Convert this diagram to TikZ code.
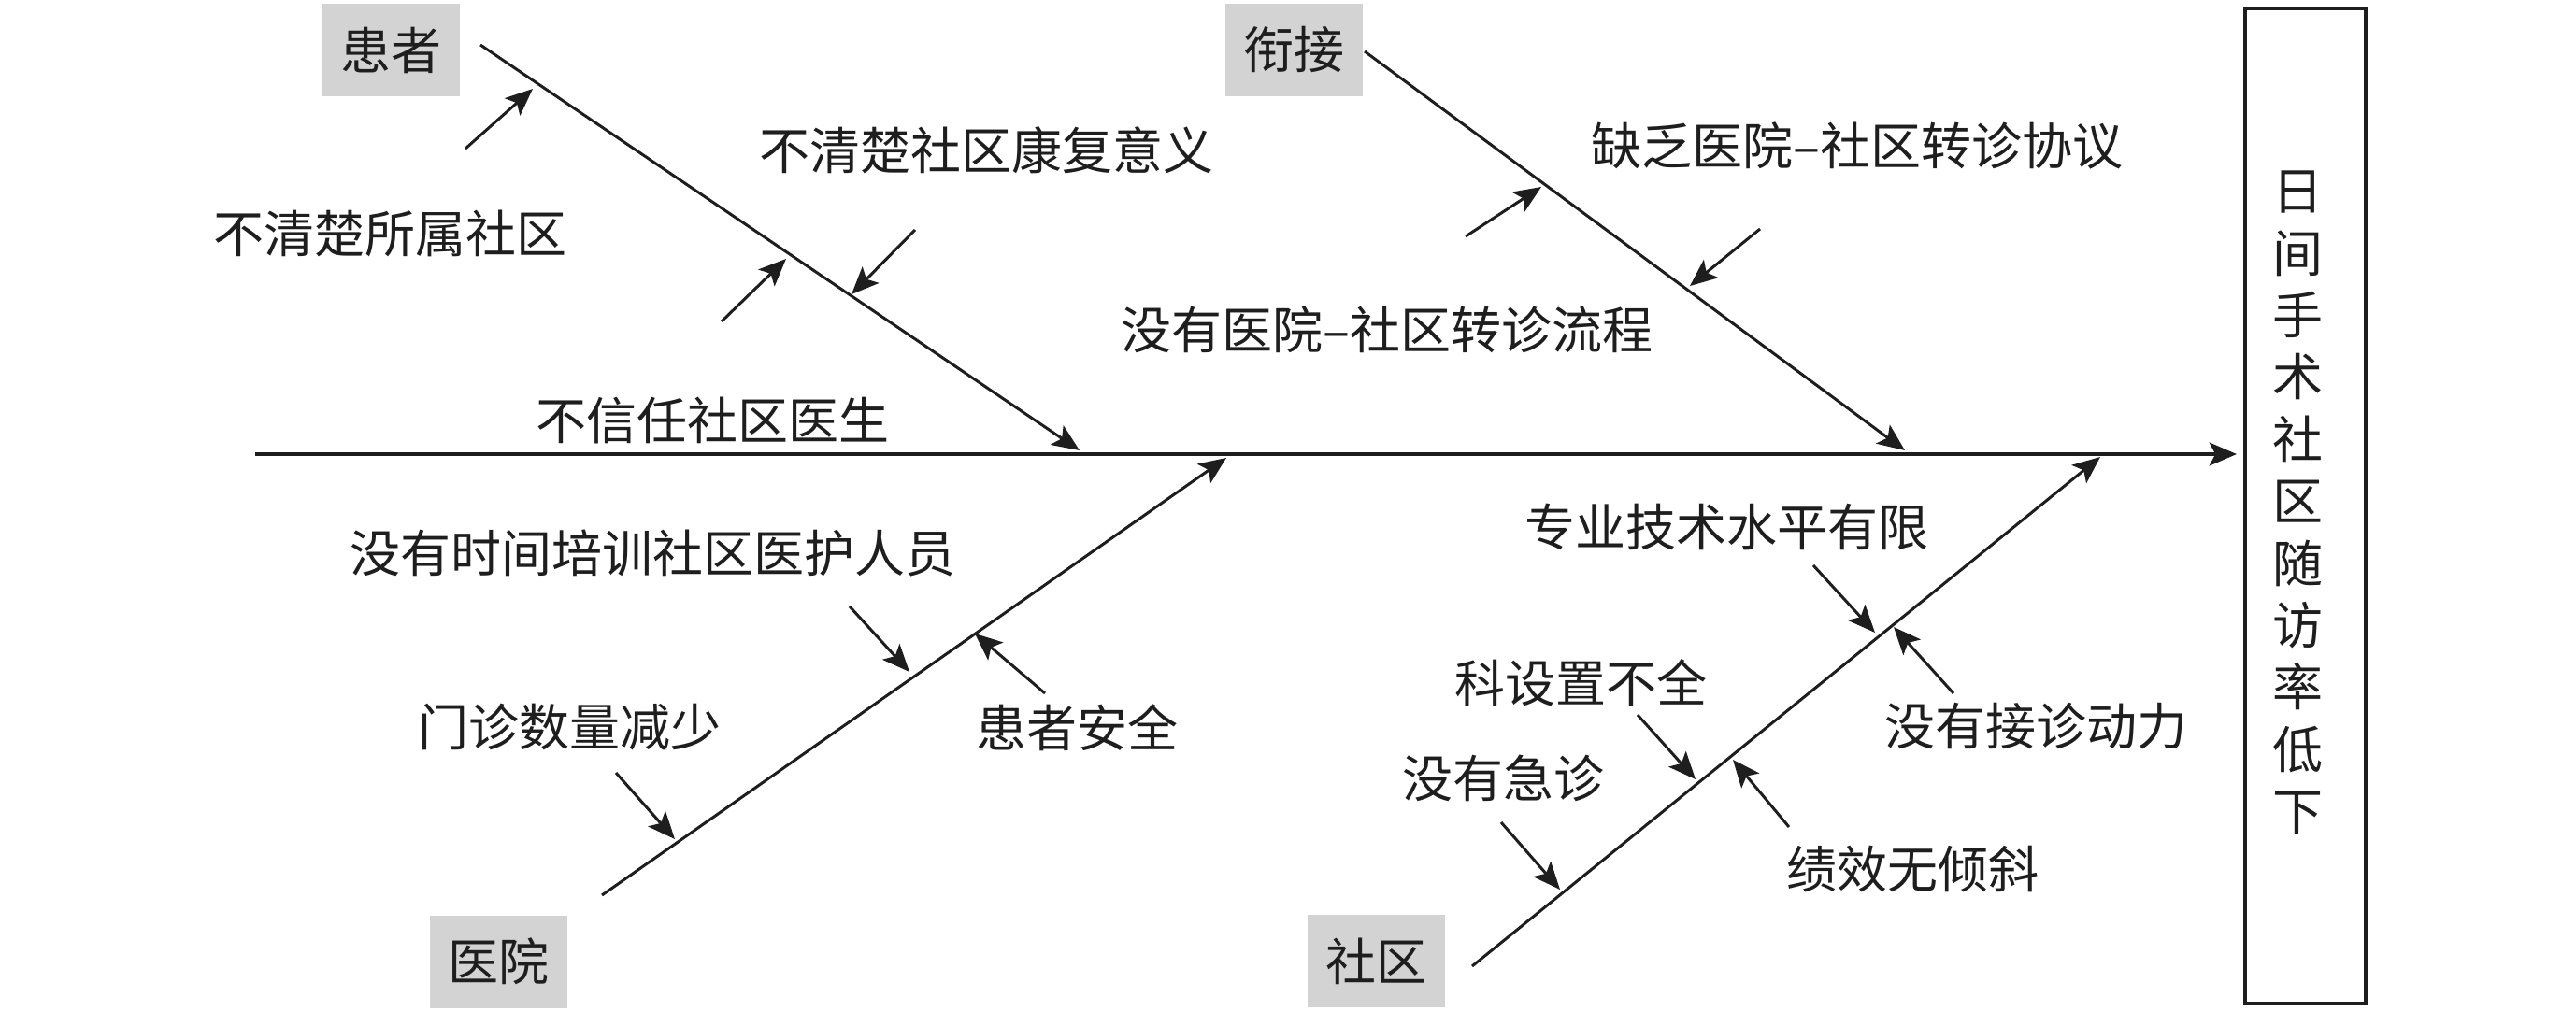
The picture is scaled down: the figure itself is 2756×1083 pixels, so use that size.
\documentclass[tikz,border=0pt]{standalone}
\usepackage{fontspec}
\newfontfamily\cjk{Noto Sans CJK SC}
\usetikzlibrary{arrows.meta}
\definecolor{catgray}{RGB}{211,211,211}
\definecolor{inkblack}{RGB}{30,30,30}
\begin{document}
\begin{tikzpicture}[x=0.25pt,y=-0.25pt,
  tip/.style={-{Stealth[length=7.3pt,width=6.2pt,inset=1.6pt]}},
  smallarrow/.style={tip,line width=0.75pt,draw=inkblack},
  bone/.style={tip,line width=0.75pt,draw=inkblack},
  spineline/.style={tip,line width=1pt,draw=inkblack},
  cat/.style={fill=catgray,minimum width=36.75pt,minimum height=24.75pt,inner sep=0pt,outer sep=0pt,text=inkblack,font=\cjk\fontsize{13.5}{16}\selectfont},
  lab/.style={inner sep=0pt,text=inkblack,font=\cjk\fontsize{13.5}{16}\selectfont},
  effectbox/.style={draw=inkblack,line width=0.9pt,minimum width=32.25pt,minimum height=266.25pt,inner sep=0pt,outer sep=0pt},
  efftext/.style={inner sep=0pt,align=center,text=inkblack,font=\cjk\fontsize{13.5}{16.6}\selectfont}
]
\useasboundingbox (0,0) rectangle (2756,1083);

% effect
\node[effectbox] (effect) at (2466.5,541.5) {};
\node[efftext] (efftxt) at (2458,538) {日\\间\\手\\术\\社\\区\\随\\访\\率\\低\\下};

% categories
\node[cat] (c1) at (418.5,53.5) {患者};
\node[cat] (c2) at (1384,53.5) {衔接};
\node[cat] (c3) at (533.5,1029) {医院};
\node[cat] (c4) at (1472.5,1028.5) {社区};

% spine
\coordinate (spine) at (273,486);
\draw[spineline,shorten >=2.25pt] (spine) -- (spine -| effect.west);

% bones
\coordinate (b1s) at (514,48);   \coordinate (b1e) at (1155,482);
\coordinate (b2s) at (1460,55);  \coordinate (b2e) at (2038,482);
\coordinate (b3s) at (644,958);  \coordinate (b3e) at (1312,490);
\coordinate (b4s) at (1575,1034);\coordinate (b4e) at (2247,489);
\draw[bone] (b1s) -- (b1e);
\draw[bone] (b2s) -- (b2e);
\draw[bone] (b3s) -- (b3e);
\draw[bone] (b4s) -- (b4e);

% labels
\node[lab] (l1) at (417,250) {不清楚所属社区};
\node[lab] (l2) at (1055,161) {不清楚社区康复意义};
\node[lab] (l3) at (762,450) {不信任社区医生};
\node[lab] (l4) at (1987,156) {缺乏医院–社区转诊协议};
\node[lab] (l5) at (1484,353) {没有医院–社区转诊流程};
\node[lab] (l6) at (698,592) {没有时间培训社区医护人员};
\node[lab] (l7) at (609,778) {门诊数量减少};
\node[lab] (l8) at (1152,779) {患者安全};
\node[lab] (l9) at (1847,564) {专业技术水平有限};
\node[lab] (l10) at (1691,731) {科设置不全};
\node[lab] (l11) at (1608,833) {没有急诊};
\node[lab] (l12) at (2178,777) {没有接诊动力};
\node[lab] (l13) at (2046,930) {绩效无倾斜};

% small arrows: tails (t) and heads (h)
\coordinate (a1t) at (498,159);  \coordinate (a1h) at (570,95);
\coordinate (a2t) at (772,344);  \coordinate (a2h) at (841,277);
\coordinate (a3t) at (979,246);  \coordinate (a3h) at (911,315);
\coordinate (a4t) at (1568,253); \coordinate (a4h) at (1649,200);
\coordinate (a5t) at (1883,245); \coordinate (a5h) at (1808,306);
\coordinate (a6t) at (909,649);  \coordinate (a6h) at (973,719);
\coordinate (a7t) at (1118,742); \coordinate (a7h) at (1043,678);
\coordinate (a8t) at (659,827);  \coordinate (a8h) at (722,898);
\coordinate (a9t) at (1940,605); \coordinate (a9h) at (2006,677);
\coordinate (a10t) at (2090,742);\coordinate (a10h) at (2026,671);
\coordinate (a11t) at (1752,765);\coordinate (a11h) at (1814,834);
\coordinate (a12t) at (1606,880);\coordinate (a12h) at (1669,952);
\coordinate (a13t) at (1914,885);\coordinate (a13h) at (1854,813);
\foreach \i in {1,...,13} {\draw[smallarrow] (a\i t) -- (a\i h);}
\end{tikzpicture}
\end{document}
